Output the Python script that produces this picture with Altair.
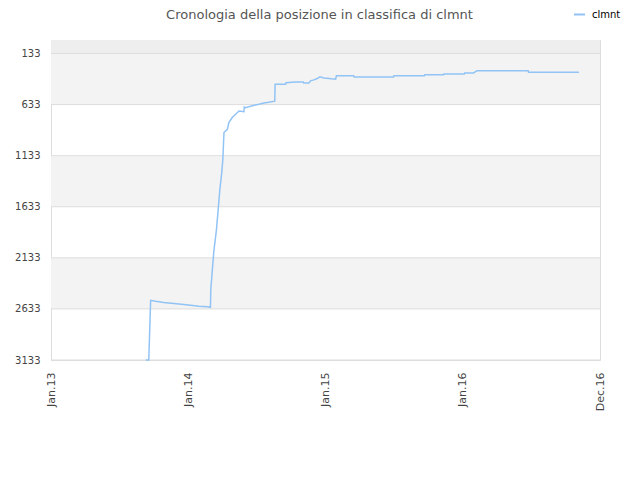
import altair as alt
import pandas as pd

# ---- data ----
dates = [
    "2013-09-10", "2013-09-18", "2013-09-23", "2013-10-06", "2013-10-28",
    "2013-12-14", "2014-01-07", "2014-01-29", "2014-02-22", "2014-03-01",
    "2014-03-02", "2014-03-10", "2014-03-17", "2014-03-22", "2014-03-26",
    "2014-03-31", "2014-04-03", "2014-04-06", "2014-04-15", "2014-04-19",
    "2014-04-28", "2014-05-07", "2014-05-16", "2014-05-29", "2014-05-30",
    "2014-06-02", "2014-06-25", "2014-07-08", "2014-07-21", "2014-08-03",
    "2014-08-19", "2014-08-20", "2014-09-17", "2014-09-18", "2014-10-13",
    "2014-11-03", "2014-11-04", "2014-11-18", "2014-11-22", "2014-12-01",
    "2014-12-10", "2014-12-17", "2014-12-28", "2015-01-17", "2015-01-28",
    "2015-01-30", "2015-03-17", "2015-03-18", "2015-07-01", "2015-07-02",
    "2015-09-21", "2015-09-22", "2015-11-11", "2015-11-12", "2016-01-05",
    "2016-01-06", "2016-01-30", "2016-02-03", "2016-02-08", "2016-06-23",
    "2016-06-24", "2016-11-05",
]
positions = [
    3133, 3133, 2549, 2559, 2571,
    2588, 2598, 2608, 2613, 2617,
    2440, 2070, 1858, 1643, 1467,
    1304, 1169, 907, 875, 810,
    760, 728, 696, 702, 657,
    663, 640, 630, 617, 610,
    600, 433, 433, 420, 411,
    411, 423, 423, 401, 391,
    378, 362, 372, 381, 384,
    352, 352, 362, 362, 352,
    352, 342, 342, 333, 333,
    323, 323, 313, 303, 303,
    316, 316,
]
series_name = "clmnt"
title_text = "Cronologia della posizione in classifica di clmnt"

y_ticks = [133, 633, 1133, 1633, 2133, 2633, 3133]
y_domain = [1, 3133]
x_ticks = ["2013-01-01", "2014-01-01", "2015-01-01", "2016-01-01", "2016-12-31"]
x_domain = ["2013-01-01", "2016-12-31"]

band_lo = [1, 133, 1133, 2133]
band_hi = [133, 633, 1633, 2633]
band_kind = ["top", "alt", "alt", "alt"]

line_df = pd.DataFrame({"date": dates, "pos": positions, "series": series_name})
band_df = pd.DataFrame({"lo": band_lo, "hi": band_hi, "kind": band_kind})
grid_df = pd.DataFrame({"v": y_ticks})

FONT = "DejaVu Sans"

yscale = alt.Scale(domain=y_domain, reverse=True, nice=False, zero=False)
xscale = alt.Scale(domain=x_domain, nice=False)

y_axis = alt.Axis(
    values=y_ticks,
    format="d",
    labelFont=FONT,
    labelFontSize=10,
    labelColor="#444444",
    labelPadding=11,
    ticks=False,
    domain=False,
    grid=False,
)

bands = alt.Chart(band_df).mark_rect().encode(
    y=alt.Y("lo:Q", scale=yscale, axis=y_axis, title=None),
    y2="hi:Q",
    x=alt.value(0),
    x2=alt.value(549),
    color=alt.Color("kind:N", scale=alt.Scale(domain=["top", "alt"], range=["#eeeeee", "#f3f3f3"]), legend=None),
)

grid = alt.Chart(grid_df).mark_rule(color="#dddddd", strokeWidth=1).encode(
    y=alt.Y("v:Q", scale=yscale, axis=y_axis, title=None),
    x=alt.value(0),
    x2=alt.value(549),
)

line = alt.Chart(line_df).mark_line(strokeWidth=1.5, interpolate="linear").encode(
    x=alt.X(
        "date:T",
        scale=xscale,
        title=None,
        axis=alt.Axis(
            values=x_ticks,
            labelExpr="timeFormat(datum.value, '%b.%y')",
            labelAngle=270,
            labelFont=FONT,
            labelFontSize=11,
            labelColor="#444444",
            labelPadding=12,
            ticks=False,
            domain=False,
            grid=False,
        ),
    ),
    y=alt.Y("pos:Q", scale=yscale, title=None, axis=y_axis),
    color=alt.Color(
        "series:N",
        scale=alt.Scale(range=["#92c3f5"]),
        legend=alt.Legend(
            title=None,
            orient="none",
            legendX=522,
            legendY=-32,
            symbolType="stroke",
            symbolSize=121,
            symbolStrokeWidth=2,
            labelFont=FONT,
            labelFontSize=10,
            labelColor="#000000",
            labelOffset=6,
            padding=0,
        ),
    ),
)

chart = (
    alt.layer(bands, grid, line)
    .resolve_scale(color="independent")
    .properties(
        width=549,
        height=320,
        title=alt.TitleParams(
            text=title_text,
            font=FONT,
            fontSize=13,
            fontWeight="normal",
            color="#555555",
            anchor="middle",
            frame="group",
            dx=-6,
            offset=-14,
        ),
        autosize=alt.AutoSizeParams(type="none"),
        padding={"left": 43, "top": 32, "right": 32, "bottom": 112},
    )
    .configure_view(stroke="#dddddd", strokeWidth=1, fill="#ffffff")
    .configure(background="#ffffff")
)

chart.save("out.html", embed_options={"renderer": "svg", "actions": False})
